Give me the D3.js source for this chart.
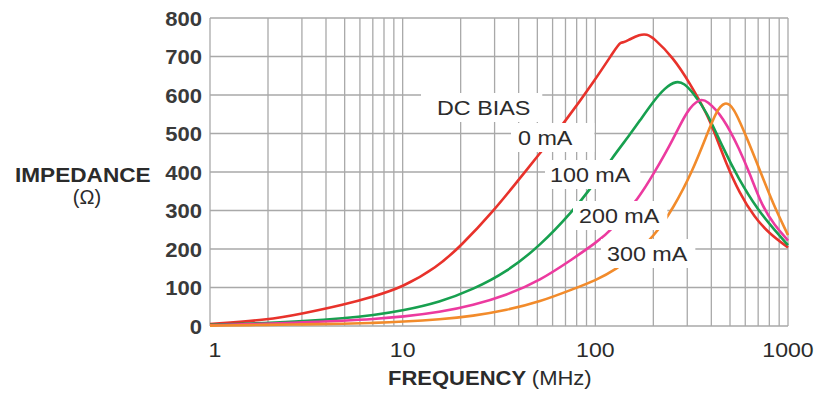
<!DOCTYPE html>
<html>
<head>
<meta charset="utf-8">
<script src="https://cdn.jsdelivr.net/npm/d3@7"></script>
<style>
  body { margin: 0; background: #fff; }
  svg { display: block; }
  text { font-family: "Liberation Sans", Arial, Helvetica, sans-serif; fill: #2b2b2b; }
</style>
</head>
<body>
<div id="chart"></div>
<script>
// impedance (ohm) vs frequency (MHz)
const bias0 = [[1,5],[2,16],[3,32],[5,56],[7,76],[10,101],[15,152],[20,207],[30,302],[40,380],[50,440],[70,532],[100,640],[128,722],[135,737],[140,736],[150,744],[170,757],[185,758],[200,749],[254,697],[310,630],[378,553],[420,497],[475,425],[560,345],[670,282],[800,240],[1000,204]];
const bias100 = [[1,3],[2,8],[3,12],[5,20],[7,28],[10,40],[15.6,62],[23.2,95],[34.6,140],[51.6,208],[76.7,300],[95.6,360],[123.7,440],[150,495],[170,533],[199,582],[230,619],[263,637],[290,630],[321,606],[378,558],[460,462],[550,385],[700,300],[850,250],[1000,210]];
const bias200 = [[1,2],[2,6],[3,9],[5,14],[7,18],[10,24],[15.6,36],[23.2,54],[34.6,80],[51.6,118],[76.7,175],[100,215],[123.7,252],[170,336],[199,392],[254,485],[300,562],[349,591],[378,586],[460,544],[563,457],[640,390],[733,312],[850,262],[1000,222]];
const bias300 = [[1,1],[2,3],[3,4],[5,6],[7,8],[10,11],[15.6,17],[23.2,26],[34.6,41],[51.6,63],[76.7,96],[100,118],[129,148],[160,185],[199,230],[254,305],[321,405],[378,495],[426,560],[470,583],[519,572],[610,490],[714,405],[835,318],[1000,236]];

const seriesLabels = ['0 mA', '100 mA', '200 mA', '300 mA'];
const seriesData = [bias0, bias100, bias200, bias300];
const colors = ['#e8322b', '#17a04f', '#ec3a9f', '#f28b2b'];

const yTicks = [0, 100, 200, 300, 400, 500, 600, 700, 800];
const xTickLabels = [1, 10, 100, 1000];

const margin = { top: 18, right: 31, bottom: 72, left: 210 };
const width = 819 - margin.left - margin.right;
const height = 398 - margin.top - margin.bottom;
const stretch = 1.11;  // source type is a bit wider than Arial

const svg = d3.select('#chart').append('svg')
  .attr('width', 819)
  .attr('height', 398);

const x = d3.scaleLog().domain([1, 1000]).range([margin.left, margin.left + width]);
const y = d3.scaleLinear().domain([0, 800]).range([margin.top + height, margin.top]);

function widen(sel, k) {
  sel.each(function () {
    this.setAttribute('textLength', this.getComputedTextLength() * k);
    this.setAttribute('lengthAdjust', 'spacingAndGlyphs');
  });
}

// grid
const grid = svg.append('g').attr('stroke', '#a9a9a9').attr('stroke-width', 1.3);
grid.selectAll('.v').data(x.ticks()).join('line')
  .attr('x1', d => x(d)).attr('x2', d => x(d))
  .attr('y1', y(800)).attr('y2', y(0));
grid.selectAll('.h').data(yTicks).join('line')
  .attr('x1', x(1)).attr('x2', x(1000))
  .attr('y1', d => y(d)).attr('y2', d => y(d));

// tick labels
const yLab = svg.append('g').selectAll('text').data(yTicks).join('text')
  .attr('x', margin.left - 8)
  .attr('y', d => y(d))
  .attr('dy', '0.36em')
  .attr('text-anchor', 'end')
  .style('font-size', '21px')
  .style('font-weight', 'bold')
  .style('fill', '#3a3a3a')
  .text(d => d);
widen(yLab, 1.05);

const xLab = svg.append('g').selectAll('text').data(xTickLabels).join('text')
  .attr('x', d => x(d) + (d === 1 ? 5 : 0))
  .attr('y', 357)
  .attr('text-anchor', 'middle')
  .style('font-size', '21px')
  .style('fill', '#2b2b2b')
  .text(d => d);
widen(xLab, 1.1);

// curves
const line = d3.line()
  .x(d => x(d[0]))
  .y(d => y(d[1]))
  .curve(d3.curveBasis);

svg.append('g').selectAll('path').data(seriesData).join('path')
  .attr('d', line)
  .attr('fill', 'none')
  .attr('stroke', (d, i) => colors[i])
  .attr('stroke-width', 2.6)
  .attr('stroke-linejoin', 'round');

// labels with white knock-out boxes
const labelPos = [
  { t: 'DC BIAS', x: 437, y: 115, pl: 16, pr: 12 },
  { t: seriesLabels[0], x: 518, y: 145, pl: 7, pr: 22 },
  { t: seriesLabels[1], x: 550, y: 182, pl: 5, pr: 10 },
  { t: seriesLabels[2], x: 579, y: 223, pl: 6, pr: 8 },
  { t: seriesLabels[3], x: 607, y: 261, pl: 6, pr: 8 }
];
const lab = svg.append('g');
labelPos.forEach(p => {
  const r = lab.append('rect').attr('fill', '#fff');
  const t = lab.append('text')
    .attr('x', p.x).attr('y', p.y)
    .style('font-size', '21px')
    .text(p.t);
  widen(t, stretch);
  const b = t.node().getBBox();
  r.attr('x', b.x - p.pl).attr('y', b.y - 3)
    .attr('width', b.width + p.pl + p.pr).attr('height', b.height + 6);
});

// axis titles
const yt = svg.append('text')
  .attr('x', 15).attr('y', 182)
  .style('font-size', '20px').style('font-weight', 'bold')
  .text('IMPEDANCE');
widen(yt, 1.13);
svg.append('text')
  .attr('x', 87).attr('y', 204)
  .attr('text-anchor', 'middle')
  .style('font-size', '20px')
  .text('(\u03A9)');

const xt = svg.append('text')
  .attr('x', 388).attr('y', 385)
  .style('font-size', '20px');
xt.append('tspan').style('font-weight', 'bold').text('FREQUENCY ');
xt.append('tspan').text('(MHz)');
widen(xt, 1.1);
</script>
</body>
</html>
